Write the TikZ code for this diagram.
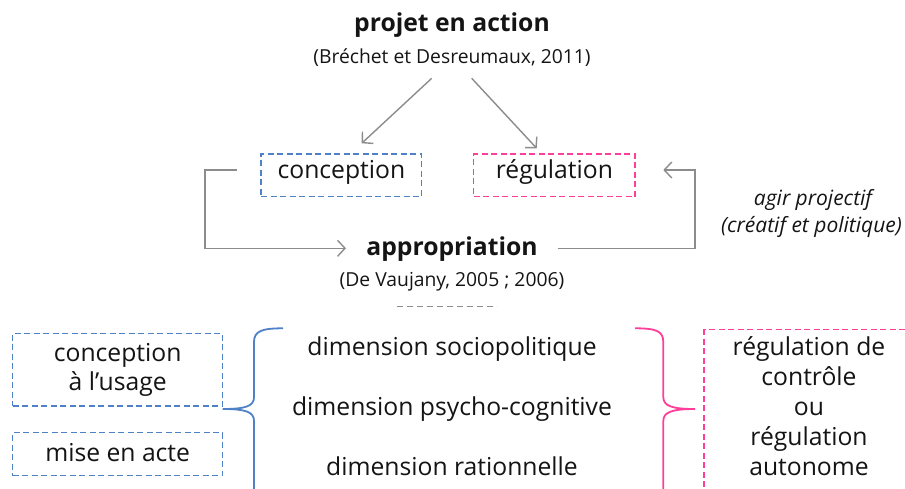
\documentclass[tikz,border=0pt]{standalone}
\usepackage{fontspec}
\setmainfont{Open Sans}
\usetikzlibrary{arrows.meta}
\definecolor{bluedash}{HTML}{4F81C7}
\definecolor{pinkdash}{HTML}{FF3E9A}
\definecolor{arrowgray}{HTML}{8C8C8C}
\definecolor{txt}{HTML}{141414}
\begin{document}
\begin{tikzpicture}[x=1pt,y=-1pt,
  every node/.style={text=txt, inner sep=0pt, outer sep=0pt},
  big/.style={font=\fontsize{24.7}{30}\selectfont},
  bigbold/.style={font=\fontsize{24.7}{30}\selectfont\bfseries},
  cite/.style={font=\fontsize{19.3}{23}\selectfont},
  ital/.style={font=\fontsize{21}{27}\selectfont\itshape},
  bluebox/.style={draw=bluedash, line width=1.3pt, dash pattern=on 6pt off 3.5pt},
  pinkbox/.style={draw=pinkdash, line width=1.3pt, dash pattern=on 6pt off 3.5pt},
  arr/.style={draw=arrowgray, line width=1.4pt, -{Straight Barb[length=7.5pt,width=16pt]}},
  bluebrace/.style={draw=bluedash, line width=1.8pt},
  pinkbrace/.style={draw=pinkdash, line width=1.8pt}]
\useasboundingbox (0,0) rectangle (905,488);
\clip (0,0) rectangle (905,488);

% top
\node[bigbold, anchor=base] (projet) at (452,31.7) {projet en action};
\node[cite, anchor=base] (bdcite) at (452,63.3) {(Bréchet et Desreumaux, 2011)};

% boxes
\node[bluebox, minimum width=160.7pt, minimum height=42.7pt] (concbox) at (341.4,175.4) {};
\node[big, anchor=base] (conc) at (341.4,178.3) {conception};
\node[pinkbox, minimum width=161.3pt, minimum height=42.7pt] (regbox) at (554.4,175.4) {};
\node[big, anchor=base] (reg) at (554.4,178.3) {régulation};

% arrows from projet
\coordinate (a1s) at (431.7,78.3);
\coordinate (a1e) at (361.7,143.3);
\coordinate (a2s) at (471.7,78.3);
\coordinate (a2e) at (536.7,148.3);
\draw[arr] (a1s) -- (a1e);
\draw[arr] (a2s) -- (a2e);

% appropriation
\node[bigbold, anchor=base] (appr) at (452,255) {appropriation};
\node[cite, anchor=base] (dvcite) at (452,286.7) {(De Vaujany, 2005 ; 2006)};
\coordinate (d1) at (396.7,306.7);
\coordinate (d2) at (496.7,306.7);
\draw[draw=arrowgray, line width=1.2pt, dash pattern=on 6pt off 4pt] (d1) -- (d2);

% loops
\coordinate (l1) at (236.7,170);
\coordinate (l2) at (346,248.3);
\draw[arr] (l1) -- ++(-31.7,0) |- (l2);
\coordinate (r1) at (557.7,248.3);
\coordinate (r2) at (663.3,170);
\draw[arr] (r1) -- ++(137.3,0) |- (r2);

% agir projectif
\node[ital, anchor=base] (agir) at (813,205.5) {agir projectif};
\node[ital, anchor=base] (creat) at (811.5,232) {(créatif et politique)};

% bottom left boxes
\node[bluebox, minimum width=210pt, minimum height=72.7pt] (cubox) at (117.7,369.7) {};
\node[big, anchor=base] (cu1) at (117.7,361.7) {conception};
\node[big, anchor=base] (cu2) at (117.7,390) {à l’usage};
\node[bluebox, minimum width=210pt, minimum height=43pt] (mabox) at (117.7,454.2) {};
\node[big, anchor=base] (ma) at (117.7,461.7) {mise en acte};

% dimensions
\node[big, anchor=base] (dim1) at (452,355) {dimension sociopolitique};
\node[big, anchor=base] (dim2) at (452,415) {dimension psycho-cognitive};
\node[big, anchor=base] (dim3) at (452,475) {dimension rationnelle};

% braces
\draw[bluebrace] (283,328.3) .. controls (262,328.3) and (254,331) .. (254,342)
  -- (254,397) .. controls (254,406) and (246,409) .. (222.7,409)
  .. controls (246,409) and (254,412) .. (254,421)
  -- (254,492) .. controls (254,503) and (262,506) .. (283,506);
\draw[pinkbrace] (635,328.3) .. controls (656,328.3) and (663.3,331) .. (663.3,342)
  -- (663.3,397) .. controls (663.3,406) and (672,409) .. (695,409)
  .. controls (672,409) and (663.3,412) .. (663.3,421)
  -- (663.3,492) .. controls (663.3,503) and (656,506) .. (635,506);

% right pink box
\coordinate (pb1) at (704,329.3);
\coordinate (pb2) at (914,505);
\draw[pinkbox] (pb1) rectangle (pb2);
\node[big, anchor=base] (rg1) at (809,355) {régulation de};
\node[big, anchor=base] (rg2) at (809,385) {contrôle};
\node[big, anchor=base] (rg3) at (809,415) {ou};
\node[big, anchor=base] (rg4) at (809,445) {régulation};
\node[big, anchor=base] (rg5) at (809,475) {autonome};
\end{tikzpicture}
\end{document}
